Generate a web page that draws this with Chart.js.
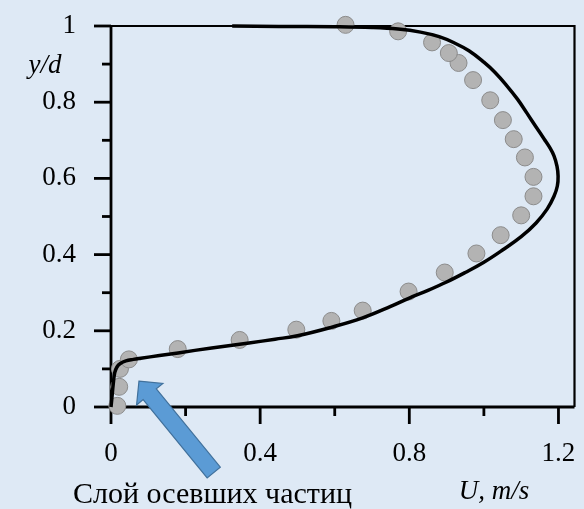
<!DOCTYPE html>
<html>
<head>
<meta charset="utf-8">
<script src="https://cdn.jsdelivr.net/npm/chart.js@4/dist/chart.umd.min.js"></script>
<style>
  html, body { margin: 0; padding: 0; background: #dee9f5; }
  #wrap { position: relative; width: 584px; height: 509px; }
</style>
</head>
<body>
<div id="wrap"><canvas id="c" width="584" height="509"></canvas></div>
<script>
// ---- data ----
const curveU = [0, 0.003, 0.006, 0.010, 0.016, 0.025, 0.040, 0.060, 0.080, 0.130, 0.180, 0.270, 0.370, 0.440, 0.500, 0.590, 0.675, 0.750, 0.800, 0.850, 0.900, 0.950, 1.000, 1.050, 1.100, 1.140, 1.170, 1.188, 1.197, 1.199, 1.196, 1.188, 1.176, 1.162, 1.140, 1.115, 1.090, 1.060, 1.030, 1.000, 0.960, 0.920, 0.880, 0.830, 0.770, 0.700, 0.600, 0.450, 0.325];
const curveY = [0, 0.030, 0.060, 0.090, 0.105, 0.114, 0.121, 0.125, 0.128, 0.135, 0.142, 0.155, 0.168, 0.178, 0.187, 0.209, 0.234, 0.264, 0.286, 0.306, 0.328, 0.353, 0.380, 0.412, 0.447, 0.483, 0.520, 0.553, 0.580, 0.606, 0.632, 0.659, 0.682, 0.703, 0.735, 0.772, 0.808, 0.845, 0.878, 0.905, 0.935, 0.956, 0.972, 0.984, 0.992, 0.996, 0.998, 0.999, 1.000];

const pointU = [0.017, 0.022, 0.024, 0.048, 0.179, 0.345, 0.497, 0.591, 0.675, 0.798, 0.895, 0.980, 1.045, 1.100, 1.133, 1.133, 1.110, 1.080, 1.051, 1.017, 0.971, 0.932, 0.906, 0.861, 0.770, 0.629];
const pointY = [0.003, 0.053, 0.100, 0.125, 0.152, 0.176, 0.203, 0.226, 0.253, 0.303, 0.353, 0.403, 0.451, 0.503, 0.553, 0.604, 0.655, 0.703, 0.753, 0.805, 0.858, 0.903, 0.929, 0.957, 0.986, 1.003];

const xTickValues = [0, 0.2, 0.4, 0.6, 0.8, 1.0, 1.2];
const xTickLabels = ['0', '', '0.4', '', '0.8', '', '1.2'];
const yTickValues = [0, 0.1, 0.2, 0.3, 0.4, 0.5, 0.6, 0.7, 0.8, 0.9, 1.0];
const yTickLabels = ['0', '', '0.2', '', '0.4', '', '0.6', '', '0.8', '', '1'];

const yTitle = 'y/d';
const xTitle = 'U, m/s';
const noteText = 'Слой осевших частиц';
// arrow annotation in data units (tip, tail)
const arrowTip = [0.075, 0.068];
const arrowTail = [0.2755, -0.172];

// ---- chart ----
const SERIF = '"Liberation Serif", "Times New Roman", serif';
const BG = '#dee9f5';

const framePlugin = {
  id: 'frame',
  beforeDraw(chart) {
    const ctx = chart.ctx;
    ctx.save();
    ctx.fillStyle = BG;
    ctx.fillRect(0, 0, chart.width, chart.height);
    ctx.restore();
  },
  beforeDatasetsDraw(chart) {
    const { ctx, chartArea: a, scales: { x, y } } = chart;
    ctx.save();
    ctx.strokeStyle = '#000';
    ctx.lineWidth = 2.2;
    ctx.beginPath();
    ctx.moveTo(a.left, a.top);
    ctx.lineTo(a.right, a.top);
    ctx.lineTo(a.right, a.bottom);
    ctx.stroke();
    ctx.lineWidth = 2.8;
    ctx.beginPath();
    ctx.moveTo(a.left, a.top);
    ctx.lineTo(a.left, a.bottom);
    ctx.moveTo(a.left, a.bottom);
    ctx.lineTo(a.right, a.bottom);
    ctx.stroke();
    yTickValues.forEach((v, i) => {
      const py = y.getPixelForValue(v);
      const len = yTickLabels[i] ? 17 : 9;
      ctx.beginPath();
      ctx.moveTo(a.left - len, py);
      ctx.lineTo(a.left, py);
      ctx.stroke();
    });
    xTickValues.forEach((v, i) => {
      const px = x.getPixelForValue(v);
      const len = xTickLabels[i] ? 17 : 9;
      ctx.beginPath();
      ctx.moveTo(px, a.bottom);
      ctx.lineTo(px, a.bottom + len);
      ctx.stroke();
    });
    ctx.restore();
  },
  afterDatasetsDraw(chart) {
    const { ctx, scales: { x, y } } = chart;
    const tx = x.getPixelForValue(arrowTip[0]), ty = y.getPixelForValue(arrowTip[1]);
    const bx = x.getPixelForValue(arrowTail[0]), by = y.getPixelForValue(arrowTail[1]);
    const dx = bx - tx, dy = by - ty, L = Math.hypot(dx, dy);
    const ux = dx / L, uy = dy / L;
    const nx = uy, ny = -ux;
    const headLen = 17, headW = 17, shaftW = 8.5;
    const hx = tx + ux * headLen, hy = ty + uy * headLen;
    ctx.save();
    ctx.beginPath();
    ctx.moveTo(tx, ty);
    ctx.lineTo(hx + nx * headW, hy + ny * headW);
    ctx.lineTo(hx + nx * shaftW, hy + ny * shaftW);
    ctx.lineTo(bx + nx * shaftW, by + ny * shaftW);
    ctx.lineTo(bx - nx * shaftW, by - ny * shaftW);
    ctx.lineTo(hx - nx * shaftW, hy - ny * shaftW);
    ctx.lineTo(hx - nx * headW, hy - ny * headW);
    ctx.closePath();
    ctx.fillStyle = '#5b9bd5';
    ctx.fill();
    ctx.lineWidth = 1.2;
    ctx.strokeStyle = '#41719c';
    ctx.stroke();
    ctx.restore();
  },
  afterDraw(chart) {
    const ctx = chart.ctx;
    ctx.save();
    ctx.fillStyle = '#000';
    ctx.textBaseline = 'alphabetic';
    ctx.font = 'italic 27px ' + SERIF;
    ctx.textAlign = 'center';
    ctx.fillText(yTitle, 45, 73);
    ctx.fillText(xTitle, 494, 499);
    ctx.font = '30px ' + SERIF;
    ctx.textAlign = 'left';
    ctx.fillText(noteText, 73, 503);
    ctx.restore();
  }
};

new Chart(document.getElementById('c'), {
  type: 'scatter',
  data: {
    datasets: [
      {
        label: 'model',
        data: curveU.map((u, i) => ({ x: u, y: curveY[i] })),
        showLine: true,
        borderColor: '#000',
        borderWidth: 3.5,
        pointRadius: 0,
        pointHoverRadius: 0,
        tension: 0.4,
        fill: false,
        clip: false,
        order: 0
      },
      {
        label: 'experiment',
        data: pointU.map((u, i) => ({ x: u, y: pointY[i] })),
        showLine: false,
        pointRadius: 8.5,
        pointBackgroundColor: '#b3b3b3',
        pointBorderColor: '#8c8c8c',
        pointBorderWidth: 1,
        clip: false,
        order: 1
      }
    ]
  },
  options: {
    responsive: false,
    animation: false,
    devicePixelRatio: 1,
    layout: { padding: { top: 26, right: 7, left: 0, bottom: 0 } },
    plugins: { legend: { display: false }, tooltip: { enabled: false } },
    scales: {
      x: {
        type: 'linear',
        min: 0,
        max: 1.243,
        afterBuildTicks: s => { s.ticks = xTickValues.map(v => ({ value: v })); },
        afterFit: s => { s.height = 102; s.paddingLeft = 0; s.paddingRight = 0; s.paddingTop = 0; s.paddingBottom = 0; },
        grid: { display: false, drawTicks: false },
        border: { display: false },
        ticks: {
          autoSkip: false,
          maxRotation: 0,
          padding: 31,
          color: '#000',
          font: { family: SERIF, size: 27 },
          callback: (v, i) => xTickLabels[i]
        }
      },
      y: {
        type: 'linear',
        min: 0,
        max: 1,
        afterBuildTicks: s => { s.ticks = yTickValues.map(v => ({ value: v })); },
        afterFit: s => { s.width = 111; s.paddingLeft = 0; s.paddingRight = 0; s.paddingTop = 0; s.paddingBottom = 0; },
        grid: { display: false, drawTicks: false },
        border: { display: false },
        ticks: {
          autoSkip: false,
          padding: 35,
          color: '#000',
          font: { family: SERIF, size: 27 },
          callback: (v, i) => yTickLabels[i]
        }
      }
    }
  },
  plugins: [framePlugin]
});
</script>
</body>
</html>
